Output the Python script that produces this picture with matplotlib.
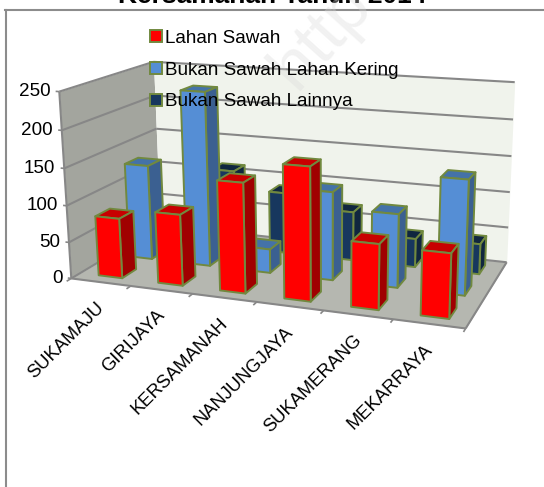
import numpy as np
import matplotlib
matplotlib.use("Agg")
import matplotlib.pyplot as plt
from matplotlib.patches import Patch
from mpl_toolkits.mplot3d import proj3d
from mpl_toolkits.mplot3d.art3d import Poly3DCollection, Line3DCollection

plt.rcParams['font.family'] = ['Liberation Sans', 'DejaVu Sans']

categories = ["SUKAMAJU", "GIRIJAYA", "KERSAMANAH", "NANJUNGJAYA", "SUKAMERANG", "MEKARRAYA"]
series_names = ["Lahan Sawah", "Bukan Sawah Lahan Kering", "Bukan Sawah Lainnya"]
lahan_sawah = [82, 96, 146, 174, 85, 83]
lahan_kering = [133, 240, 33, 120, 99, 152]
lainnya = [0, 112, 87, 69, 40, 42]
value_ticks = [0, 50, 100, 150, 200, 250]

front_colors = ["#FF0000", "#558ED5", "#17375E"]
side_colors = ["#A00000", "#3B6091", "#10263F"]
top_colors = ["#C80000", "#4472A8", "#10263F"]
edge_color = "#71893F"
W, H = 544, 487

fig = plt.figure(figsize=(W / 100, H / 100), dpi=100)
ax = fig.add_axes([0, 0, 1, 1], projection="3d", computed_zorder=False)
ax.set_axis_off()
ax.patch.set_alpha(0)
ax.set_box_aspect(None)
ax.apply_aspect()

# Camera calibration: (category, depth, value) -> screen pixel (y down)
calib = [
    (0, 0, 0, 72, 278), (0, 0, 50, 68, 242), (0, 0, 100, 66, 206), (0, 0, 150, 63, 168),
    (0, 0, 200, 62, 131), (0, 0, 250, 60, 91),
    (0, 1, 250, 154, 62), (0, 1, 200, 155, 97), (0, 1, 150, 156, 128), (0, 1, 100, 157, 161),
    (6, 1, 250, 515, 82), (6, 1, 200, 513, 119), (6, 1, 150, 511, 156), (6, 1, 100, 510, 192),
    (6, 1, 50, 508, 228), (6, 1, 0, 507, 262),
    (6, 0, 0, 465, 328), (1, 0, 0, 132, 286), (2, 0, 0, 193, 294), (4, 0, 0, 324, 311), (5, 0, 0, 393, 320),
]
rows = []
rhs = []
for cx, cy, cz, u, v in calib:
    cz = cz / 250
    rows.append([cx, cy, cz, 1, 0, 0, 0, 0, -u * cx, -u * cy, -u * cz])
    rows.append([0, 0, 0, 0, cx, cy, cz, 1, -v * cx, -v * cy, -v * cz])
    rhs += [u, v]
p = np.linalg.lstsq(np.array(rows, float), np.array(rhs, float), rcond=None)[0]
P = np.array([p[:4], p[4:8], [*p[8:], 1.0]])
P[:, 2] /= 250

# From pixels (y down) to the 2D view coordinates of the axes
inv = ax.transData.inverted()
o = inv.transform((0, H))
ex = inv.transform((1, H)) - o
ey = inv.transform((0, H - 1)) - o
A = np.array([[ex[0], ey[0], o[0]], [ex[1], ey[1], o[1]], [0, 0, 1]])
Q = A @ P
M = np.array([Q[0], Q[1], [0, 0.001, 0, 0], Q[2]])
ax.get_proj = lambda: M
ax.set_xlim(0, 6)
ax.set_ylim(0, 1)
ax.set_zlim(0, 250)


def add_faces(faces, colors, edge, lw, zorder):
    coll = Poly3DCollection(faces, facecolors=colors, edgecolors=edge, linewidths=lw, zorder=zorder)
    coll.set_clip_on(False)
    ax.add_collection3d(coll, autolim=False)


def add_lines(segments, lw, zorder):
    coll = Line3DCollection(segments, colors="#878787", linewidths=lw, zorder=zorder)
    coll.set_clip_on(False)
    ax.add_collection3d(coll, autolim=False)


def label_at(x, y, z, dx, dy, text, **kw):
    # Text placed at a projected data point, nudged by a pixel offset
    px, py, _ = proj3d.proj_transform(x, y, z, M)
    offset = matplotlib.transforms.ScaledTranslation(dx / 100, dy / 100, fig.dpi_scale_trans)
    ax.text2D(px, py, text, transform=ax.transData + offset, zorder=50, color="#000000", **kw)


# Walls and floor
add_faces([[(0, 0, 0), (0, 1, 0), (0, 1, 250), (0, 0, 250)]], ["#A3A59E"], "#A3A59E", 0, 1)
add_faces([[(0, 1, 0), (6, 1, 0), (6, 1, 250), (0, 1, 250)]], ["#F0F3EC"], "#F0F3EC", 0, 1)
add_faces([[(0, 0, 0), (6, 0, 0), (6, 1, 0), (0, 1, 0)]], ["#B5B7B0"], "#B5B7B0", 0, 1.5)

# Gridlines and axis edges
for v in value_ticks:
    add_lines([[(0, 0, v), (0, 1, v)], [(0, 1, v), (6, 1, v)]], 1.5, 2)
add_lines([[(0, 0, 0), (0, 0, 250)], [(0, 0, 0), (6, 0, 0)], [(6, 0, 0), (6, 1, 0)]], 1.5, 2)
add_lines([[(i, 0, 0), (i, -0.045, 0)] for i in range(7)], 1.2, 2)
add_lines([[(0, 0, v), (-0.06, 0, v)] for v in value_ticks], 1.2, 2)

# Columns, drawn back to front and left to right
bar_width = 0.40
bar_depth = 0.15
bar_center = 0.515
row_start = [0.09, 0.42, 0.76]
all_series = [lahan_sawah, lahan_kering, lainnya]
for s in (2, 1, 0):
    for c in range(len(categories)):
        val = all_series[s][c]
        if val <= 0:
            continue
        x0, x1 = c + bar_center - bar_width / 2, c + bar_center + bar_width / 2
        y0, y1 = row_start[s], row_start[s] + bar_depth
        front = [(x0, y0, 0), (x1, y0, 0), (x1, y0, val), (x0, y0, val)]
        side = [(x1, y0, 0), (x1, y1, 0), (x1, y1, val), (x1, y0, val)]
        top = [(x0, y0, val), (x1, y0, val), (x1, y1, val), (x0, y1, val)]
        add_faces([side, top, front], [side_colors[s], top_colors[s], front_colors[s]],
                  edge_color, 1.4, 10 + (2 - s) * 10 + c * 0.1)

# Tick labels
for v in value_ticks:
    label_at(0, 0, v, -9, 0, str(v), ha="right", va="center", fontsize=13.6)
for c, name in enumerate(categories):
    label_at(c + 0.5, 0, 0, -5, -17, name, rotation=45, rotation_mode="anchor",
             ha="right", va="top", fontsize=13.2)

# Chart area outline
fig.add_artist(plt.Line2D([5.5 / W, 5.5 / W], [0, 1 - 9.5 / H], color="#8C8C8C", lw=1.5))
fig.add_artist(plt.Line2D([5 / W, 1], [1 - 9.5 / H] * 2, color="#8C8C8C", lw=1.5))

# Faint stamp across the top of the chart
fig.text(296 / W, 1 - 92 / H, "http", rotation=48, rotation_mode="anchor", ha="left", va="baseline",
         fontsize=50, color="#D9D9D9", alpha=0.35, family="Liberation Sans", zorder=60)

fig.text(272 / W, 1 - 3 / H, "Kersamanah Tahun 2014", ha="center", va="baseline",
         fontsize=19, fontweight="bold", color="#000000")

handles = [Patch(facecolor=front_colors[i], edgecolor=edge_color, linewidth=1.4) for i in range(3)]
leg = fig.legend(handles, series_names, loc="upper left", bbox_to_anchor=(150 / W, 1 - 30 / H),
                 frameon=False, fontsize=13.6, labelspacing=0.78, handlelength=0.62, handleheight=0.62,
                 handletextpad=0.2, borderpad=0, borderaxespad=0)
leg.set_zorder(100)

fig.savefig("out.png", dpi=100)
